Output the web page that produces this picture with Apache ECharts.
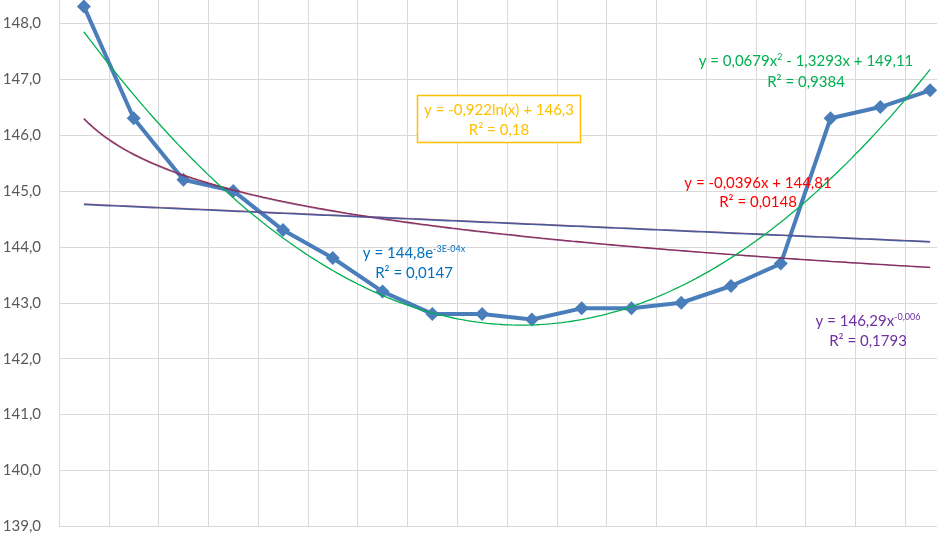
<!DOCTYPE html>
<html>
<head>
<meta charset="utf-8">
<script src="https://cdn.jsdelivr.net/npm/echarts@6/dist/echarts.min.js"></script>
<style>
html,body{margin:0;padding:0;background:#fff;overflow:hidden;width:937px;height:535px;position:relative}
#c{position:absolute;left:0;top:-33px;width:955px;height:568px}
</style>
</head>
<body>
<div id="c"></div>
<script>
// ---- data ----
const categories = ['1','2','3','4','5','6','7','8','9','10','11','12','13','14','15','16','17','18'];
const values = [148.3, 146.3, 145.2, 145.0, 144.3, 143.8, 143.2, 142.8, 142.8, 142.7, 142.9, 142.9, 143.0, 143.3, 143.7, 146.3, 146.5, 146.8];
const yMin = 139, yMax = 149, yStep = 1;

const quadText = ['y = 0,0679x', '2', ' - 1,3293x + 149,11', 'R² = 0,9384'];
const logText = ['y = -0,922ln(x) + 146,3', 'R² = 0,18'];
const expText = ['y = 144,8e', '-3E-04x', 'R² = 0,0147'];
const linText = ['y = -0,0396x + 144,81', 'R² = 0,0148'];
const powText = ['y = 146,29x', '-0,006', 'R² = 0,1793'];

// ---- least squares fits from the data ----
const xs = values.map((v, i) => i + 1);
function linFit(X, Y) {
  const n = X.length;
  let sx = 0, sy = 0, sxx = 0, sxy = 0;
  for (let i = 0; i < n; i++) { sx += X[i]; sy += Y[i]; sxx += X[i] * X[i]; sxy += X[i] * Y[i]; }
  const b = (n * sxy - sx * sy) / (n * sxx - sx * sx);
  const a = (sy - b * sx) / n;
  return [a, b];
}
function quadFit(X, Y) {
  const S = [0,0,0,0,0], T = [0,0,0];
  for (let i = 0; i < X.length; i++) {
    let p = 1;
    for (let k = 0; k < 5; k++) { S[k] += p; p *= X[i]; }
    T[0] += Y[i]; T[1] += Y[i] * X[i]; T[2] += Y[i] * X[i] * X[i];
  }
  const M = [[S[0],S[1],S[2],T[0]],[S[1],S[2],S[3],T[1]],[S[2],S[3],S[4],T[2]]];
  for (let c = 0; c < 3; c++) {
    for (let r = c + 1; r < 3; r++) {
      const f = M[r][c] / M[c][c];
      for (let k = c; k < 4; k++) M[r][k] -= f * M[c][k];
    }
  }
  const s = [0,0,0];
  for (let r = 2; r >= 0; r--) {
    let v = M[r][3];
    for (let k = r + 1; k < 3; k++) v -= M[r][k] * s[k];
    s[r] = v / M[r][r];
  }
  return s;
}
const lnX = xs.map(Math.log), lnY = values.map(Math.log);
const lin = linFit(xs, values);
const lg = linFit(lnX, values);
const ex = linFit(xs, lnY);
const pw = linFit(lnX, lnY);
const qd = quadFit(xs, values);

function curve(f) {
  const out = [];
  for (let k = 0; k <= 170; k++) { const x = 1 + k * 0.1; out.push([x, f(x)]); }
  return out;
}
const linCurve = curve(x => lin[0] + lin[1] * x);
const logCurve = curve(x => lg[0] + lg[1] * Math.log(x));
const expCurve = curve(x => Math.exp(ex[0]) * Math.exp(ex[1] * x));
const powCurve = curve(x => Math.exp(pw[0]) * Math.pow(x, pw[1]));
const quadCurve = curve(x => qd[0] + qd[1] * x + qd[2] * x * x);

const FONT = 'Lato';
const OY = 33; // chart element is shifted up by this many px
const chart = echarts.init(document.getElementById('c'), null, {renderer: 'canvas'});
function trend(data, color, width, opacity, z) {
  return {type: 'line', xAxisIndex: 1, yAxisIndex: 0, data: data, showSymbol: false, symbol: 'none',
    lineStyle: {color: color, width: width, opacity: opacity}, z: z, silent: true, animation: false};
}
function label2(x, y1, y2, l1, sup, rest, l2, color, size) {
  const rich = {n: {fontFamily: FONT, fontSize: size, color: color},
                s: {fontFamily: FONT, fontSize: Math.round(size * 0.62), color: color, verticalAlign: 'top', padding: [0,0,Math.round(size*0.45),0]}};
  let txt = '{n|' + l1 + '}';
  if (sup) txt += '{s|' + sup + '}';
  if (rest) txt += '{n|' + rest + '}';
  return [
    {type: 'text', x: x, y: y1 + OY, z: 100, style: {text: txt, rich: rich, align: 'center', verticalAlign: 'middle', fill: color}},
    {type: 'text', x: x, y: y2 + OY, z: 100, style: {text: l2, font: size + 'px ' + FONT, fill: color, align: 'center', verticalAlign: 'middle'}}
  ];
}
const graphics = [].concat(
  [{type: 'rect', z: 99, shape: {x: 417.5, y: 95.5 + OY, width: 163, height: 47}, style: {fill: '#fff', stroke: '#FFC000', lineWidth: 1.5}}],
  label2(499, 110, 130, logText[0], null, null, logText[1], '#FFC000', 15),
  label2(806, 61, 82, quadText[0], quadText[1], quadText[2], quadText[3], '#00B050', 15),
  label2(414, 253, 273, expText[0], expText[1], null, expText[2], '#0070C0', 15),
  label2(758, 183, 202, linText[0], null, null, linText[1], '#FF0000', 15),
  label2(868, 321, 341, powText[0], powText[1], null, powText[2], '#7030A0', 15)
);

chart.setOption({
  animation: false,
  backgroundColor: '#fff',
  grid: {left: 59, right: 0, top: 0.3, bottom: 8.6, containLabel: false, outerBoundsMode: 'none'},
  xAxis: [
    {type: 'category', data: categories, boundaryGap: true,
      axisLine: {show: true, lineStyle: {color: '#d9d9d9', width: 1}},
      axisTick: {show: false}, axisLabel: {show: false},
      splitLine: {show: true, interval: 0, lineStyle: {color: '#d9d9d9', width: 1}}},
    {type: 'value', min: 0.5, max: 18.5, show: false, splitLine: {show: false}}
  ],
  yAxis: {type: 'value', min: yMin, max: yMax, interval: yStep,
    axisLine: {show: false}, axisTick: {show: false},
    axisLabel: {margin: 18, color: '#595959', fontFamily: FONT, fontSize: 15,
      formatter: v => v.toFixed(1).replace('.', ',')},
    splitLine: {lineStyle: {color: '#d9d9d9', width: 1}}},
  series: [
    {type: 'line', xAxisIndex: 0, data: values, symbol: 'diamond', symbolSize: 14,
      lineStyle: {color: '#4A7EBB', width: 4}, itemStyle: {color: '#4A7EBB'}, z: 3},
    trend(linCurve, '#FF0000', 0.8, 0.5, 5),
    trend(expCurve, '#4B5A98', 1.7, 1, 6),
    trend(logCurve, '#A0303A', 1.3, 1, 5),
    trend(powCurve, '#6A2E8A', 1.3, 0.6, 6),
    trend(quadCurve, '#00B050', 1.3, 1, 7)
  ],
  graphic: graphics
});
</script>
</body>
</html>
